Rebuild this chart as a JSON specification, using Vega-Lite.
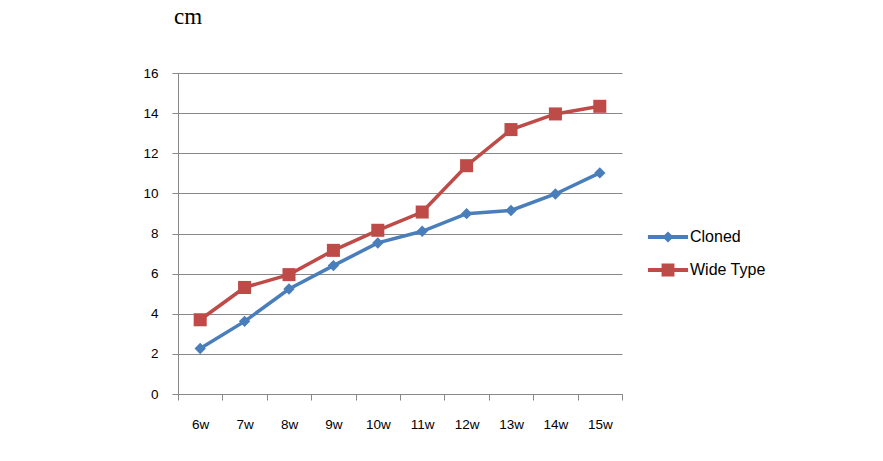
{
  "$schema": "https://vega.github.io/schema/vega-lite/v6.json",
  "width": 444,
  "height": 321,
  "autosize": "none",
  "padding": {"left": 178, "top": 73, "right": 261, "bottom": 67},
  "background": "white",
  "title": {
    "text": "cm",
    "anchor": "start",
    "frame": "group",
    "font": "Liberation Serif",
    "fontSize": 23,
    "fontWeight": "normal",
    "color": "#000000",
    "dx": -4,
    "offset": 37
  },
  "data": {
    "values": [
      {"week": "6w", "series": "Cloned", "cm": 2.27},
      {"week": "7w", "series": "Cloned", "cm": 3.62},
      {"week": "8w", "series": "Cloned", "cm": 5.23},
      {"week": "9w", "series": "Cloned", "cm": 6.4},
      {"week": "10w", "series": "Cloned", "cm": 7.53},
      {"week": "11w", "series": "Cloned", "cm": 8.11},
      {"week": "12w", "series": "Cloned", "cm": 8.99},
      {"week": "13w", "series": "Cloned", "cm": 9.15},
      {"week": "14w", "series": "Cloned", "cm": 9.97},
      {"week": "15w", "series": "Cloned", "cm": 11.02},
      {"week": "6w", "series": "Wide Type", "cm": 3.7},
      {"week": "7w", "series": "Wide Type", "cm": 5.31},
      {"week": "8w", "series": "Wide Type", "cm": 5.95},
      {"week": "9w", "series": "Wide Type", "cm": 7.16},
      {"week": "10w", "series": "Wide Type", "cm": 8.16},
      {"week": "11w", "series": "Wide Type", "cm": 9.07},
      {"week": "12w", "series": "Wide Type", "cm": 11.38},
      {"week": "13w", "series": "Wide Type", "cm": 13.18},
      {"week": "14w", "series": "Wide Type", "cm": 13.96},
      {"week": "15w", "series": "Wide Type", "cm": 14.34}
    ]
  },
  "encoding": {
    "x": {
      "field": "week",
      "type": "ordinal",
      "sort": null,
      "bandPosition": 0.5,
      "scale": {"type": "band", "paddingInner": 0, "paddingOuter": 0},
      "axis": {
        "title": null,
        "tickBand": "extent",
        "labelAngle": 0,
        "labelPadding": 17,
        "tickSize": 6,
        "grid": false
      }
    },
    "y": {
      "field": "cm",
      "type": "quantitative",
      "scale": {"domain": [0, 16], "nice": false},
      "axis": {
        "title": null,
        "values": [0, 2, 4, 6, 8, 10, 12, 14, 16],
        "grid": true,
        "tickSize": 6,
        "labelPadding": 14
      }
    },
    "color": {
      "field": "series",
      "type": "nominal",
      "scale": {"domain": ["Cloned", "Wide Type"], "range": ["#4A7EBB", "#BE4B48"]},
      "legend": {
        "title": null,
        "orient": "none",
        "legendX": 473,
        "legendY": 147,
        "padding": 0,
        "symbolSize": 1156,
        "symbolType": "square",
        "rowPadding": 8,
        "labelOffset": 5,
        "labelFont": "Liberation Sans",
        "labelFontSize": 16,
        "labelColor": "#000000",
        "encode": {
          "symbols": {
            "update": {
              "shape": {"signal": "datum.value === 'Cloned' ? 'M-1.18,-0.12H1.18V0.12H-1.18Z M0,-0.33L0.33,0L0,0.33L-0.33,0Z' : 'M-1.18,-0.12H1.18V0.12H-1.18Z M-0.38,-0.38H0.38V0.38H-0.38Z'"},
              "size": {"value": 1156},
              "fill": {"signal": "datum.value === 'Cloned' ? '#4A7EBB' : '#BE4B48'"},
              "fillOpacity": {"value": 1},
              "opacity": {"value": 1},
              "strokeWidth": {"value": 0},
              "stroke": {"value": "transparent"}
            }
          }
        }
      }
    }
  },
  "layer": [
    {
      "mark": {"type": "line", "strokeWidth": 3.5}
    },
    {
      "transform": [{"filter": "datum.series === 'Cloned'"}],
      "mark": {"type": "point", "filled": true, "opacity": 1, "shape": "diamond", "size": 130}
    },
    {
      "transform": [{"filter": "datum.series === 'Wide Type'"}],
      "mark": {"type": "point", "filled": true, "opacity": 1, "shape": "square", "size": 170}
    }
  ],
  "config": {
    "view": {"stroke": null},
    "axis": {
      "labelFont": "Liberation Sans",
      "labelFontSize": 13.5,
      "labelColor": "#000000",
      "domainColor": "#888888",
      "tickColor": "#888888",
      "gridColor": "#888888",
      "domainWidth": 1,
      "tickWidth": 1,
      "gridWidth": 1
    }
  }
}
